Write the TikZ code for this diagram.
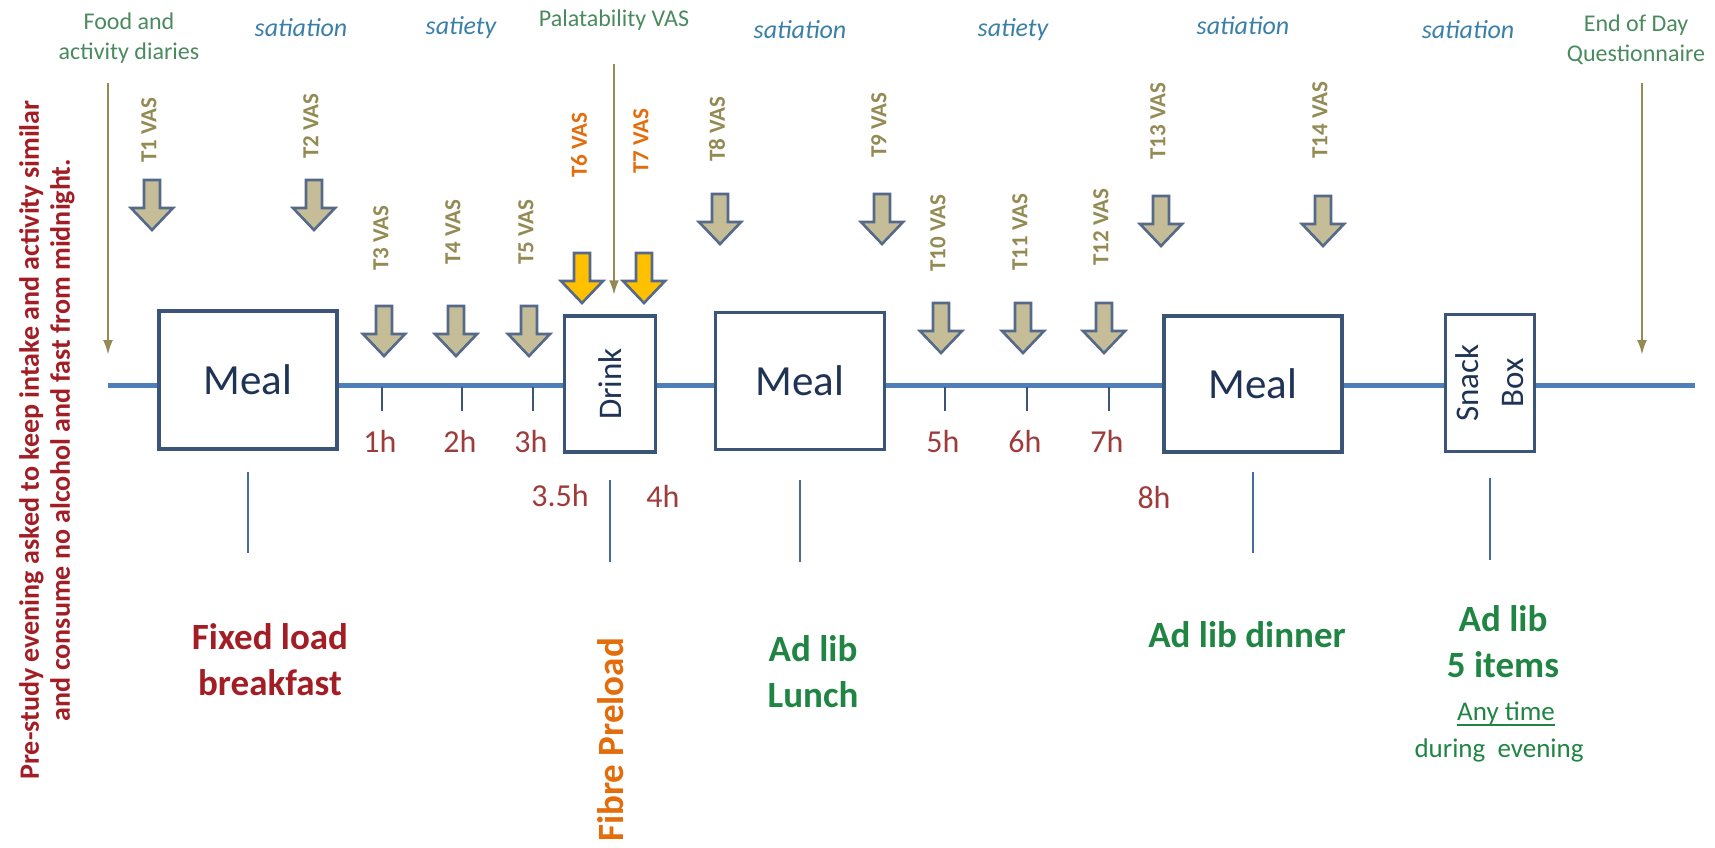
\documentclass[tikz,border=0pt]{standalone}
\usepackage{xcolor}
\usepackage{fontspec}
\setmainfont{Carlito}
\usetikzlibrary{arrows.meta}

\definecolor{tlblue}{HTML}{4F7FB8}
\definecolor{boxblue}{HTML}{3B5579}
\definecolor{mealtext}{HTML}{1F3355}
\definecolor{vastan}{HTML}{C4BD97}
\definecolor{arrowedge}{HTML}{55698A}
\definecolor{drinkyellow}{HTML}{FFC000}
\definecolor{olive}{HTML}{948A54}
\definecolor{vasorange}{HTML}{E46C0A}
\definecolor{phaseblue}{HTML}{3A7FA8}
\definecolor{notegreen}{HTML}{4A8A5E}
\definecolor{hourred}{HTML}{9E3B3B}
\definecolor{darkred}{HTML}{A31D24}
\definecolor{adlibgreen}{HTML}{208543}

% block arrow: centre x, top y, fill
\newcommand{\vasarrow}[3]{%
	\draw[vas, fill=#3] (#1-8,#2) -- (#1+8,#2) -- (#1+8,#2+28) -- (#1+21,#2+28)
		-- (#1,#2+50) -- (#1-21,#2+28) -- (#1-8,#2+28) -- cycle;}

\begin{document}
\begin{tikzpicture}
		[x=1pt, y=-1pt,
			box/.style ={rectangle, draw=boxblue, line width=3.5pt, fill=white, inner sep=0pt, text=mealtext},
 timeline/.style ={draw=tlblue, line width=5pt},
 hourtick/.style ={draw=boxblue, line width=1.8pt},
 stem/.style ={draw=tlblue!85!black, line width=2.6pt},
 vas/.style ={draw=arrowedge, line width=2.6pt, line join=miter},
 vaslabel/.style ={rotate=90, text=olive, inner sep=0pt, font=\fontsize{23}{23}\selectfont\bfseries},
 hour/.style ={text=hourred, inner sep=0pt, font=\fontsize{32}{32}\selectfont},
 phase/.style ={text=phaseblue, inner sep=0pt, font=\fontsize{26}{26}\selectfont\itshape},
 note/.style ={text=notegreen, align=center, inner sep=0pt, font=\fontsize{24}{30}\selectfont},
 adlib/.style ={text=adlibgreen, align=center, inner sep=0pt, font=\fontsize{37}{46}\selectfont\bfseries},
 line/.style ={draw=olive, line width=2.5pt, -{Latex[length=15pt,width=10pt]}}]
		\useasboundingbox (0,0) rectangle (1715,847);

		% pre-study instructions
		\node[rotate=90, text=darkred, align=center, inner sep=0pt,
			font=\fontsize{28}{31}\selectfont\bfseries] (prestudy) at (47,440)
			{Pre-study evening asked to keep intake and activity similar\\and consume no alcohol and fast from midnight.};

		% time line and boxes
		\coordinate (tlstart) at (108,385);
		\coordinate (tlend) at (1695,385);
		\draw[timeline] (tlstart) -- (tlend);
		\node[box, minimum width=178pt, minimum height=138pt, font=\fontsize{43}{43}\selectfont] (meal1) at (248,380) {Meal};
		\node[box, rotate=90, minimum width=136pt, minimum height=91pt, font=\fontsize{33}{33}\selectfont] (drink) at (610,384) {Drink};
		\node[box, minimum width=169pt, minimum height=137pt, font=\fontsize{43}{43}\selectfont] (meal2) at (800,381) {Meal};
		\node[box, minimum width=178pt, minimum height=136pt, font=\fontsize{43}{43}\selectfont] (meal3) at (1253,384) {Meal};
		\node[box, rotate=90, align=center, minimum width=137pt, minimum height=89pt, font=\fontsize{33}{45}\selectfont] (snack) at (1490,383) {Snack\\Box};

		% hours
		\foreach \x/\n in {382/1, 462/2, 533/3, 945/5, 1027/6, 1109/7}{
			\draw[hourtick] (\x,387) -- (\x,411);
			\node[hour] (hour\n) at (\x-2,441) {\n h};}
		\node[hour] (hour35) at (560,496) {3.5h};
		\node[hour] (hour4) at (663,496) {4h};
		\node[hour] (hour8) at (1154,497) {8h};

		% VAS ratings
		\foreach \x/\y/\l/\n in {152/180/130/1, 314/180/126/2, 384/306/238/3, 456/306/232/4, 529/306/232/5,
			720/194/129/8, 882/194/125/9, 941/303/233/10, 1023/303/232/11, 1104/303/227/12,
			1161/196/121/13, 1323/196/120/14}{
			\vasarrow{\x}{\y}{vastan}
			\node[vaslabel] (vas\n) at (\x-3,\l) {T\n\ VAS};}
		\vasarrow{582}{253}{drinkyellow}
		\node[vaslabel, text=vasorange] (vas6) at (579,145) {T6 VAS};
		\vasarrow{644}{253}{drinkyellow}
		\node[vaslabel, text=vasorange] (vas7) at (641,141) {T7 VAS};

		% top row
		\node[note] (diaries) at (129,38) {Food and\\activity diaries};
		\node[phase] (sat1) at (301,28) {satiation};
		\node[phase] (sty1) at (461,28) {satiety};
		\node[note] (palat) at (614,20) {Palatability VAS};
		\node[phase] (sat2) at (800,30) {satiation};
		\node[phase] (sty2) at (1013,30) {satiety};
		\node[phase] (sat3) at (1243,26) {satiation};
		\node[phase] (sat4) at (1468,30) {satiation};
		\node[note] (endday) at (1636,40) {End of Day\\Questionnaire};
		\draw[line] ([yshift=-20pt]diaries.south -| tlstart) -- ([yshift=30pt]tlstart);
		\draw[line, shorten >=19pt] ([yshift=-34pt]palat.south) -- (palat.south |- drink.east);
		\draw[line, shorten >=30pt] ([xshift=6pt, yshift=-18pt]endday.south) -- ([xshift=6pt]endday.south |- tlend);

		% meals below
		\draw[stem] (meal1.center |- 0,472) -- ++(0,81);
		\draw[stem] (drink.center |- 0,480) -- ++(0,82);
		\draw[stem] (meal2.center |- 0,480) -- ++(0,82);
		\draw[stem] (meal3.center |- 0,472) -- ++(0,81);
		\draw[stem] (snack.center |- 0,478) -- ++(0,82);
		\node[adlib, text=darkred] (breakfast) at (270,660) {Fixed load\\breakfast};
		\node[adlib, text=vasorange, rotate=90] (fibre) at (611,740) {Fibre Preload};
		\node[adlib] (lunch) at (813,672) {Ad lib\\Lunch};
		\node[adlib] (dinner) at (1247,635) {Ad lib dinner};
		\node[adlib] (snacklbl) at (1503,642) {Ad lib\\5 items};
		\node[text=adlibgreen, inner sep=0pt, font=\fontsize{27}{27}\selectfont] (anytime) at (1506,713) {Any time};
		\draw[adlibgreen, line width=1.8pt] ([yshift=-5pt]anytime.base west) -- ([yshift=-5pt]anytime.base east);
		\node[text=adlibgreen, inner sep=0pt, font=\fontsize{27}{27}\selectfont] (evening) at (1499,750) {during\ \ evening};
	\end{tikzpicture}
\end{document}
